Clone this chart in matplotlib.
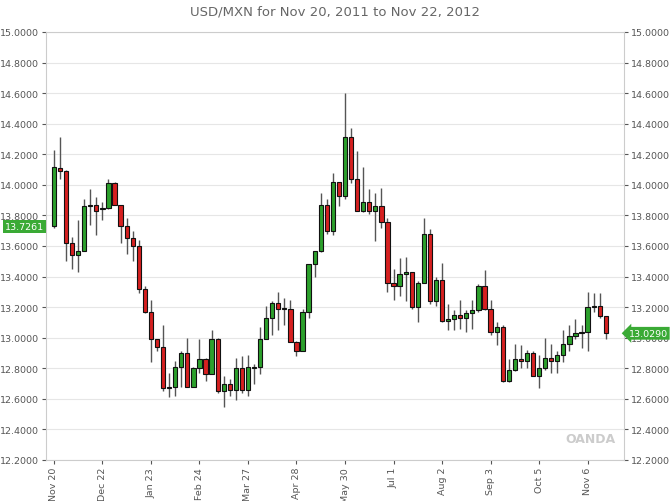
import matplotlib
matplotlib.use("Agg")
import matplotlib.pyplot as plt
from matplotlib.patches import Rectangle

opens = [13.73,14.11,14.09,13.62,13.54,13.57,13.86,13.87,13.84,13.85,14.01,13.87,13.73,13.65,13.60,13.32,13.17,12.99,12.94,12.67,
         12.68,12.81,12.90,12.68,12.80,12.86,12.76,12.99,12.65,12.70,12.66,12.80,12.66,12.80,12.81,12.99,13.13,13.23,13.19,13.19,
         12.97,12.91,13.17,13.48,13.57,13.87,13.70,14.02,13.93,14.31,14.04,13.83,13.89,13.83,13.86,13.76,13.36,13.34,13.42,13.43,
         13.20,13.36,13.68,13.24,13.38,13.11,13.12,13.15,13.13,13.16,13.18,13.34,13.19,13.04,13.07,12.72,12.79,12.86,12.85,12.90,
         12.75,12.80,12.87,12.85,12.89,12.96,13.01,13.03,13.04,13.20,13.21,13.14]
closes = [14.12,14.09,13.62,13.54,13.57,13.86,13.87,13.83,13.85,14.01,13.87,13.73,13.65,13.60,13.32,13.17,12.99,12.94,12.67,12.68,
          12.81,12.90,12.68,12.80,12.86,12.76,12.99,12.65,12.70,12.66,12.80,12.66,12.81,12.81,12.99,13.13,13.23,13.19,13.19,12.97,
          12.91,13.17,13.48,13.57,13.87,13.70,14.02,13.93,14.31,14.04,13.83,13.89,13.83,13.86,13.76,13.36,13.34,13.42,13.43,13.20,
          13.36,13.68,13.24,13.38,13.11,13.12,13.15,13.13,13.16,13.18,13.34,13.19,13.04,13.07,12.72,12.79,12.86,12.85,12.90,12.75,
          12.80,12.87,12.85,12.89,12.96,13.01,13.03,13.04,13.20,13.21,13.14,13.029]
highs = [14.23,14.31,14.10,13.66,13.77,13.91,13.97,13.92,13.89,14.04,14.02,13.87,13.78,13.70,13.64,13.34,13.25,12.99,13.08,12.77,
         12.85,12.91,13.00,12.81,12.99,12.87,13.05,13.00,12.75,12.73,12.87,12.88,12.89,12.83,13.07,13.21,13.24,13.30,13.26,13.25,
         12.98,13.19,13.48,13.57,13.95,13.91,14.08,14.02,14.60,14.37,14.22,14.12,13.97,13.95,13.98,13.78,13.45,13.52,13.53,13.43,
         13.37,13.78,13.71,13.40,13.49,13.22,13.18,13.25,13.18,13.25,13.35,13.44,13.25,13.10,13.08,12.86,12.96,12.95,12.92,12.91,
         12.89,13.00,12.96,12.91,13.05,13.08,13.12,13.08,13.30,13.29,13.29,13.14]
lows = [13.72,14.04,13.50,13.45,13.43,13.57,13.74,13.67,13.77,13.84,13.87,13.62,13.55,13.50,13.29,13.16,12.84,12.91,12.65,12.61,
        12.62,12.68,12.68,12.68,12.77,12.72,12.76,12.64,12.55,12.62,12.59,12.64,12.62,12.70,12.76,12.99,13.02,13.05,13.08,12.97,
        12.88,12.91,13.13,13.40,13.56,13.68,13.67,13.86,13.91,14.01,13.83,13.82,13.81,13.63,13.72,13.30,13.25,13.27,13.24,13.19,
        13.10,13.36,13.22,13.21,13.10,13.05,13.05,13.06,13.04,13.06,13.17,13.18,13.02,12.95,12.71,12.71,12.78,12.80,12.80,12.75,
        12.67,12.79,12.77,12.77,12.84,12.91,12.99,12.93,12.91,13.17,13.13,12.99]
tick_idx = [0, 8, 16, 24, 32, 40, 48, 56, 64, 72, 80, 88]
tick_labels = ["Nov 20","Dec 22","Jan 23","Feb 24","Mar 27","Apr 28","May 30","Jul 1","Aug 2","Sep 3","Oct 5","Nov 6"]
yticks = [12.2,12.4,12.6,12.8,13.0,13.2,13.4,13.6,13.8,14.0,14.2,14.4,14.6,14.8,15.0]
first_price = 13.7261
last_price = 13.0290

fig = plt.figure(figsize=(6.7,5.02), dpi=100)
ax = fig.add_axes([46/670, 1-461/502, (624-46)/670, (461-33)/502])
ax.set_facecolor("white")
green, red = "#2ca02c", "#d62020"
w = 0.7
for i,(o,c,h,l) in enumerate(zip(opens,closes,highs,lows)):
    col = green if c >= o else red
    ax.vlines(i, l, h, color="#555555", lw=1, zorder=2)
    b = min(o,c); hgt = max(abs(c-o), 0.004)
    ax.add_patch(Rectangle((i-w/2, b), w, hgt, facecolor=col, edgecolor="#111111", lw=0.8, zorder=3))
ax.set_xlim(-1.3, 94)
ax.set_ylim(12.2, 15.0)
ax.set_yticks(yticks)
ax.set_yticklabels([f"{v:.4f}" for v in yticks])
ax.tick_params(axis="y", labelsize=6.8, colors="#555555", right=True, labelright=True, length=3, pad=2)
ax.set_xticks(tick_idx)
ax.set_xticklabels(tick_labels, rotation=90)
ax.tick_params(axis="x", labelsize=6.8, colors="#555555", length=3, pad=2)
ax.grid(axis="y", color="#e6e6e6", lw=0.8)
for s in ax.spines.values():
    s.set_color("#cccccc")
ax.set_axisbelow(True)
fig.text(0.5, 1-12/502, "USD/MXN for Nov 20, 2011 to Nov 22, 2012", ha="center", va="center", fontsize=9.5, color="#666666")
ax.text(-0.004, first_price, f"{first_price:.4f}", transform=ax.get_yaxis_transform(), ha="right", va="center",
        fontsize=6.8, color="white", zorder=10, clip_on=False,
        bbox=dict(boxstyle="square,pad=0.2", fc="#3aaa35", ec="none"))
ax.text(1.008, last_price, f"{last_price:.4f}", transform=ax.get_yaxis_transform(), ha="left", va="center",
        fontsize=6.8, color="white", zorder=10, clip_on=False,
        bbox=dict(boxstyle="larrow,pad=0.2", fc="#3aaa35", ec="none"))
ax.text(0.985, 0.035, "OANDA", transform=ax.transAxes, ha="right", va="bottom", fontsize=9, color="#cccccc", fontweight="bold")
fig.savefig("out.png", dpi=100)
